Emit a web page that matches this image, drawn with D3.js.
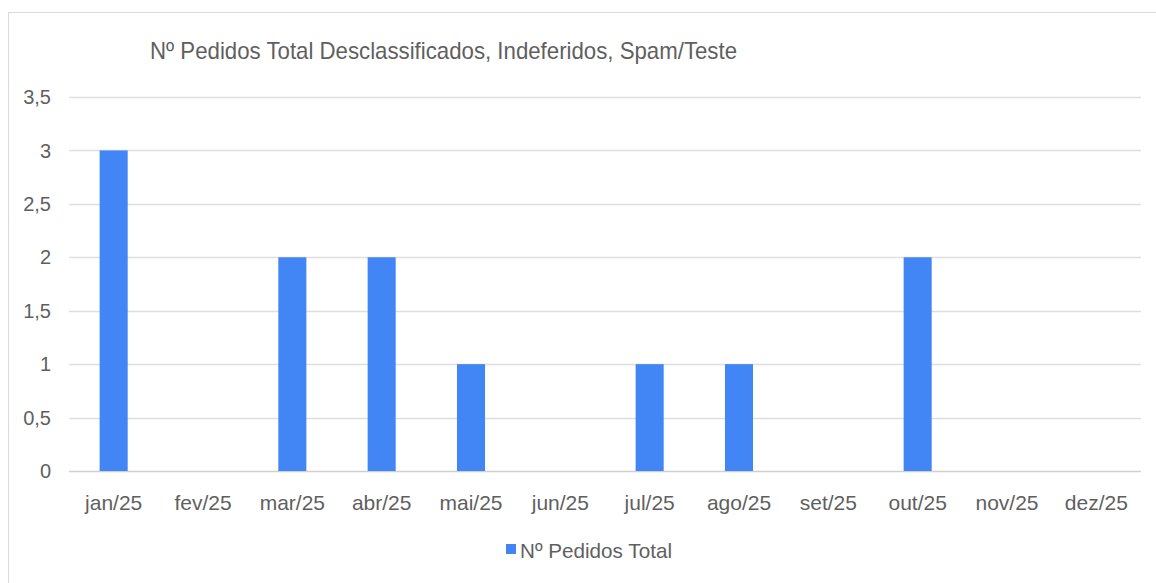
<!DOCTYPE html>
<html><head><meta charset="utf-8">
<script src="https://cdn.jsdelivr.net/npm/d3@7"></script>
<style>body{margin:0;background:#fff}svg{display:block}text{font-family:"Liberation Sans",Arial,sans-serif;fill:#5f5f5f}</style>
</head><body>
<svg id="c" width="1156" height="583"></svg>
<script>
const categories = ["jan/25","fev/25","mar/25","abr/25","mai/25","jun/25","jul/25","ago/25","set/25","out/25","nov/25","dez/25"];
const values = [3,0,2,2,1,0,1,1,0,2,0,0];
const yTicks = [0,0.5,1,1.5,2,2.5,3,3.5];
const title = "Nº Pedidos Total Desclassificados, Indeferidos, Spam/Teste";
const seriesName = "Nº Pedidos Total";

const svg = d3.select("#c");
svg.append("rect").attr("x",8.5).attr("y",12.5).attr("width",1200).attr("height",700)
  .attr("fill","none").attr("stroke","#d9d9d9");

const x = d3.scaleBand().domain(categories).range([69,1141]).paddingInner(0.686).paddingOuter(0.343);
const y = d3.scaleLinear().domain([0,3.5]).range([471,97]);
const fmt = v => String(v).replace(".",",");

svg.append("g").selectAll("line").data(yTicks).join("line")
  .attr("x1",69).attr("x2",1141).attr("y1",d=>Math.round(y(d))+0.5).attr("y2",d=>Math.round(y(d))+0.5)
  .attr("stroke",d=>d===0?"#cfcfcf":"#dedede").attr("stroke-width",1.5);

svg.append("g").selectAll("text").data(yTicks).join("text")
  .attr("x",51).attr("y",d=>y(d)).attr("dy","0.36em").attr("text-anchor","end")
  .attr("font-size",20).text(fmt);

svg.append("g").selectAll("rect").data(values).join("rect")
  .attr("x",(d,i)=>x(categories[i])).attr("width",x.bandwidth())
  .attr("y",d=>y(d)).attr("height",d=>y(0)-y(d)).attr("fill","#4285f4");

svg.append("g").selectAll("text").data(categories).join("text")
  .attr("x",d=>x(d)+x.bandwidth()/2).attr("y",510).attr("text-anchor","middle")
  .attr("font-size",21).text(d=>d);

svg.append("text").attr("x",150).attr("y",59).attr("font-size",24)
  .attr("textLength",587).attr("lengthAdjust","spacingAndGlyphs").text(title);

svg.append("rect").attr("x",506).attr("y",544).attr("width",10).attr("height",10).attr("fill","#4285f4");
svg.append("text").attr("x",520).attr("y",558).attr("font-size",21)
  .attr("textLength",152).attr("lengthAdjust","spacingAndGlyphs").text(seriesName);
</script>
</body></html>
